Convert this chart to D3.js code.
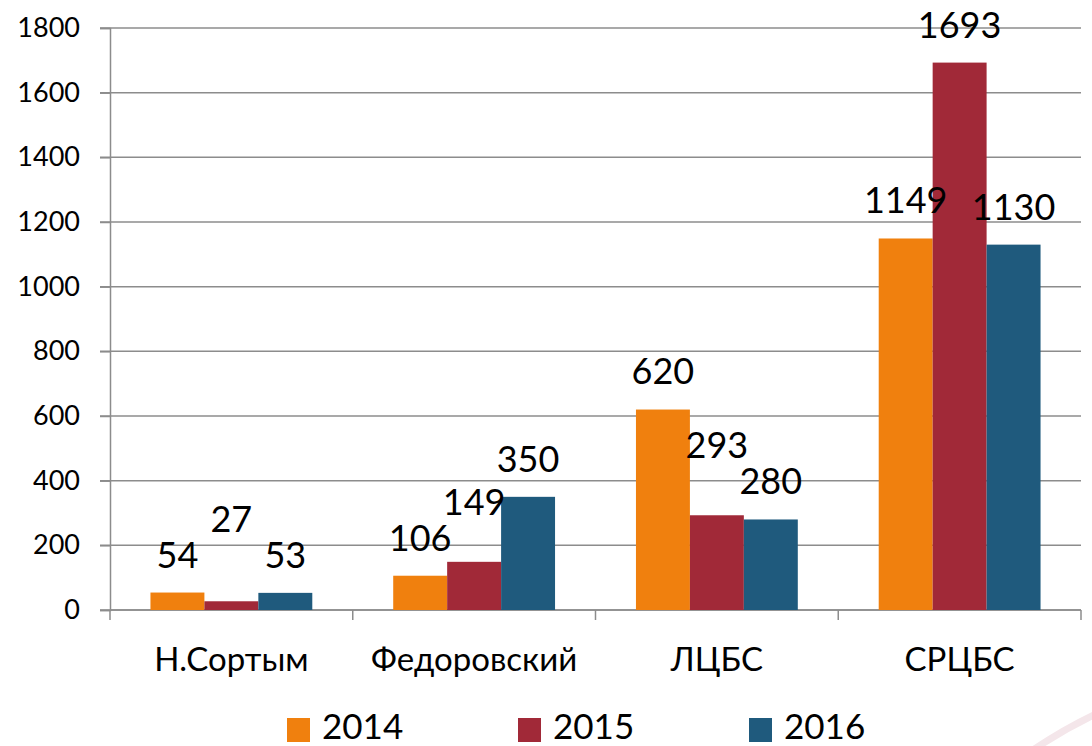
<!DOCTYPE html>
<html>
<head>
<meta charset="utf-8">
<script src="https://cdn.jsdelivr.net/npm/d3@7"></script>
<style>
  body { margin: 0; background: #fff; }
  svg { display: block; font-family: Lato, "Open Sans", sans-serif; }
</style>
</head>
<body>
<script>
// data
var categories = ["Н.Сортым", "Федоровский", "ЛЦБС", "СРЦБС"];
var years = ["2014", "2015", "2016"];
var values2014 = [54, 106, 620, 1149];
var values2015 = [27, 149, 293, 1693];
var values2016 = [53, 350, 280, 1130];
var yTicks = [0, 200, 400, 600, 800, 1000, 1200, 1400, 1600, 1800];
var colors = ["#F0800E", "#A12938", "#1F5A7D"];

var series = [values2014, values2015, values2016];

var width = 1092, height = 746;
var margin = {top: 28, right: 11, bottom: 136, left: 110};
var plotW = width - margin.left - margin.right,
    plotH = height - margin.top - margin.bottom;

var svg = d3.select("body").append("svg")
    .attr("width", width)
    .attr("height", height);

// faint decorative arc, bottom right
svg.append("path")
    .attr("d", "M1030,752 Q1065,728 1100,712")
    .attr("fill", "none")
    .attr("stroke", "#f4e6ea")
    .attr("stroke-width", 7);

var main = svg.append("g")
    .attr("transform", "translate(" + margin.left + "," + margin.top + ")");

var x = d3.scaleBand()
    .domain(categories)
    .range([0, plotW])
    .paddingInner(1 / 3)
    .paddingOuter(1 / 6);

var xSub = d3.scaleBand()
    .domain(years)
    .range([0, x.bandwidth()]);

var y = d3.scaleLinear()
    .domain([0, 1800])
    .range([plotH, 0]);

// gridlines
main.append("g")
    .selectAll("line")
    .data(yTicks)
    .enter().append("line")
    .attr("x1", -10)
    .attr("x2", plotW)
    .attr("y1", function (d) { return y(d); })
    .attr("y2", function (d) { return y(d); })
    .attr("stroke", "#8c8c8c")
    .attr("stroke-width", 1.5);

// y axis
var yAxis = d3.axisLeft(y).tickValues(yTicks).tickFormat(d3.format("d"))
    .tickSize(10).tickPadding(20);
var yg = main.append("g").call(yAxis);
yg.select(".domain").attr("stroke", "#8c8c8c").attr("stroke-width", 1.5);
yg.selectAll(".tick line").attr("stroke", "#8c8c8c").attr("stroke-width", 1.5);
yg.selectAll(".tick text")
    .attr("font-size", 27)
    .attr("fill", "#000")
    .attr("font-family", "Lato, sans-serif");

// x axis: ticks at category boundaries
var step = x.step();
var boundaries = d3.range(categories.length + 1).map(function (i) { return i * step; });
var xg = main.append("g").attr("transform", "translate(0," + plotH + ")");
xg.append("line")
    .attr("x1", 0).attr("x2", plotW)
    .attr("stroke", "#8c8c8c").attr("stroke-width", 1.5);
xg.selectAll(".bt")
    .data(boundaries)
    .enter().append("line")
    .attr("class", "bt")
    .attr("x1", function (d) { return d; })
    .attr("x2", function (d) { return d; })
    .attr("y1", 0).attr("y2", 10)
    .attr("stroke", "#8c8c8c").attr("stroke-width", 1.5);
xg.selectAll(".cat")
    .data(categories)
    .enter().append("text")
    .attr("class", "cat")
    .attr("x", function (d) { return x(d) + x.bandwidth() / 2; })
    .attr("y", 61)
    .attr("text-anchor", "middle")
    .attr("font-size", 33)
    .attr("fill", "#000")
    .text(function (d) { return d; });

// bars
var groups = main.selectAll(".grp")
    .data(categories)
    .enter().append("g")
    .attr("class", "grp")
    .attr("transform", function (d) { return "translate(" + x(d) + ",0)"; });

groups.selectAll("rect")
    .data(function (d, i) {
      return years.map(function (yr, j) { return {year: yr, value: series[j][i], s: j}; });
    })
    .enter().append("rect")
    .attr("x", function (d) { return xSub(d.year); })
    .attr("width", xSub.bandwidth())
    .attr("y", function (d) { return y(d.value); })
    .attr("height", function (d) { return plotH - y(d.value); })
    .attr("fill", function (d) { return colors[d.s]; });

// data labels: above each bar, middle one pushed up if it clashes with a neighbour
var labelGap = 38, labelH = 36;
categories.forEach(function (c, i) {
  var cy = years.map(function (yr, j) { return y(series[j][i]) - labelGap; });
  var m = cy[1];
  var clash = [cy[0], cy[2]].filter(function (v) { return Math.abs(v - m) < labelH - 6; });
  if (clash.length) m = d3.min(clash) - labelH;
  cy[1] = m;
  years.forEach(function (yr, j) {
    main.append("text")
      .attr("x", x(c) + xSub(yr) + xSub.bandwidth() / 2)
      .attr("y", cy[j])
      .attr("dy", "0.36em")
      .attr("text-anchor", "middle")
      .attr("font-size", 36)
      .attr("fill", "#000")
      .text(series[j][i]);
  });
});

// legend
var legend = svg.append("g").attr("transform", "translate(287,0)");
var item = legend.selectAll(".lg")
    .data(years)
    .enter().append("g")
    .attr("class", "lg")
    .attr("transform", function (d, i) { return "translate(" + (i * 231) + ",0)"; });
item.append("rect")
    .attr("x", 0).attr("y", 718)
    .attr("width", 23).attr("height", 24)
    .attr("fill", function (d, i) { return colors[i]; });
item.append("text")
    .attr("x", 35).attr("y", 739)
    .attr("font-size", 35)
    .attr("fill", "#000")
    .text(function (d) { return d; });
</script>
</body>
</html>
